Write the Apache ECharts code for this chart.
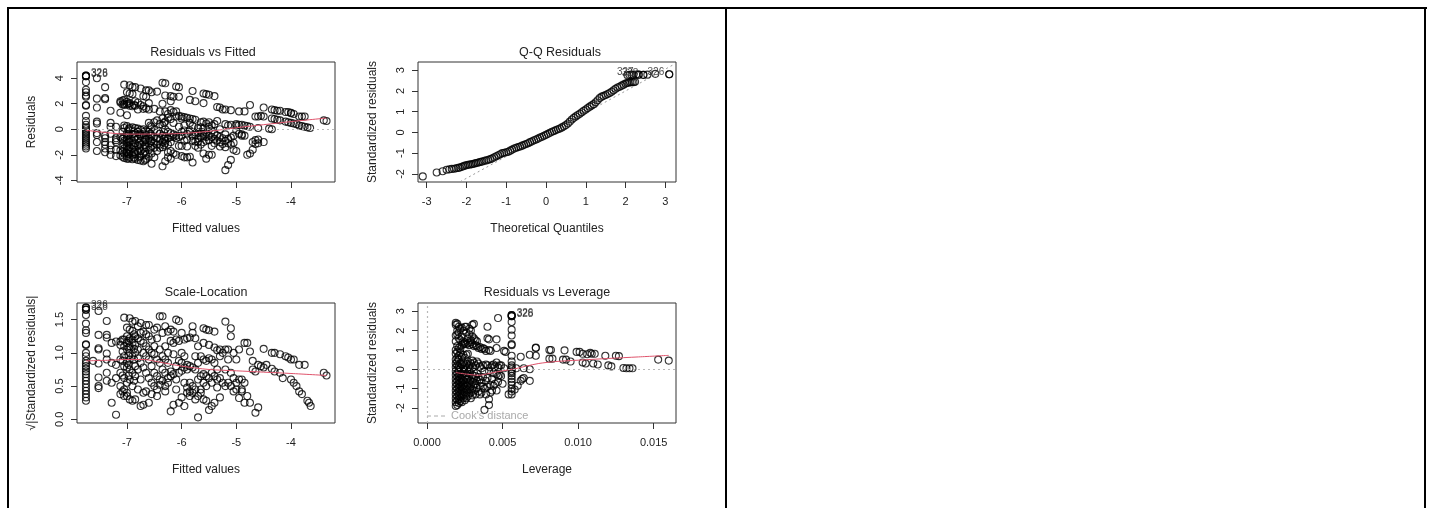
<!DOCTYPE html>
<html>
<head>
<meta charset="utf-8">
<script src="https://cdn.jsdelivr.net/npm/echarts@6/dist/echarts.min.js"></script>
<style>
html,body{margin:0;padding:0;background:#fff;}
#chart{position:absolute;left:0;top:0;width:1430px;height:508px;}
.rule{position:absolute;background:#000;}
</style>
</head>
<body>
<div id="chart"></div>
<div class="rule" style="left:7px;top:7px;width:1420px;height:2px"></div>
<div class="rule" style="left:7px;top:7px;width:2px;height:501px"></div>
<div class="rule" style="left:725px;top:7px;width:2px;height:501px"></div>
<div class="rule" style="left:1424px;top:7px;width:2px;height:501px"></div>
<script>
// residuals vs fitted, one entry per fitted value: [fitted, [residuals]]
const rvfCols = [
  [-7.75,[4.2,4.15,3.7,3.1,2.9,2.65,2.55,1.9,1.85,1.05,0.65,0.35,0.15,0.0,-0.15,-0.3,-0.45,-0.6,-0.75,-0.9,-1.05,-1.2,-1.35,-1.5]],
  [-7.55,[4.0,2.4,1.7,0.6,0.45,-0.3,-0.45,-1.0,-1.7]],
  [-7.4,[3.3,2.45,2.35,-0.5,-0.7,-1.0,-1.2,-1.5,-1.8]],
  [-7.3,[1.45,0.5,0.2,-0.35,-1.25,-1.6,-2.0]],
  [-7.2,[0.2,-0.7,-0.85,-1.0,-1.6,-2.1]],
  [-7.12,[1.3,2.1,2.2,-0.6,-1.65,-2.05]],
  [-7.08,[2.25,1.95,-0.2,-0.75,-1.35,-1.75,-2.15]],
  [-7.05,[3.5,2.3,2.0,1.9,0.3,0.1,-0.6,-0.9,-1.2,-1.5,-1.9,-2.25]],
  [-7.0,[2.9,2.15,1.95,1.1,0.25,-0.3,-0.5,-0.8,-1.05,-1.3,-1.6,-1.85,-2.1,-2.3]],
  [-6.97,[2.0,0.0,-0.4,-0.95,-1.5,-1.95,-2.3]],
  [-6.95,[3.45,2.8,2.05,1.85,0.1,-0.1,-0.7,-1.0,-1.4,-1.7,-2.2]],
  [-6.9,[3.3,2.75,1.8,0.15,-0.4,-0.9,-1.25,-1.55,-2.0,-2.35]],
  [-6.87,[1.9,-0.15,-0.7,-1.35,-1.8,-2.2]],
  [-6.85,[3.3,2.2,1.85,0.1,-0.3,-0.6,-1.1,-1.6,-1.95,-2.3]],
  [-6.8,[2.1,1.55,0.05,-0.2,-0.75,-1.3,-1.75,-2.4]],
  [-6.77,[-0.4,-1.05,-1.5,-2.2]],
  [-6.75,[3.2,1.9,-0.05,-0.5,-0.9,-1.2,-1.7,-2.1,-2.45]],
  [-6.7,[2.6,1.8,1.6,0.0,-0.3,-0.65,-1.0,-1.5,-1.9,-2.5]],
  [-6.67,[-0.2,-0.85,-1.25,-1.75,-2.4]],
  [-6.65,[3.05,2.55,1.65,-0.1,-0.45,-0.8,-1.4,-2.0,-2.3]],
  [-6.6,[3.05,2.05,1.55,0.5,-0.2,-0.7,-1.1,-1.6,-2.15]],
  [-6.57,[0.3,-0.35,-0.95,-1.45]],
  [-6.55,[2.9,0.2,-0.5,-0.9,-1.3,-1.9,-2.7]],
  [-6.5,[1.6,0.55,-0.05,-0.6,-1.05,-1.45,-2.2]],
  [-6.45,[2.95,0.7,-0.25,-0.7,-1.2,-1.7]],
  [-6.4,[1.4,0.4,-0.35,-0.8,-1.2,-1.45]],
  [-6.35,[3.65,2.0,0.85,0.3,-0.5,-1.0,-1.4,-2.9]],
  [-6.32,[0.5,-0.25,-0.75,-1.25]],
  [-6.3,[3.6,2.65,1.4,0.6,0.0,-0.6,-0.9,-1.1,-2.5]],
  [-6.25,[1.2,0.9,-0.2,-0.7,-1.2,-1.8,-2.2]],
  [-6.2,[2.6,2.2,1.5,0.8,-0.3,-0.6,-1.0,-1.7,-2.3]],
  [-6.15,[2.55,1.35,0.5,-0.4,-0.6,-1.9]],
  [-6.1,[3.35,1.4,1.0,-0.5,-0.7,-2.0]],
  [-6.05,[3.3,2.55,1.05,0.2,-0.6,-1.3]],
  [-6.0,[1.0,0.85,-0.2,-0.5,-1.3,-2.1]],
  [-5.95,[0.95,0.3,-0.1,-0.9,-2.2]],
  [-5.9,[0.9,-0.35,-0.8,-1.35,-2.2]],
  [-5.85,[2.3,0.85,0.5,-0.1,-0.2,-2.15]],
  [-5.8,[3.0,0.8,0.25,-0.5,-0.9,-2.6]],
  [-5.75,[2.2,0.75,-0.25,-0.45,-0.95,-1.3]],
  [-5.7,[0.1,-0.3,-0.7,-1.0,-1.45]],
  [-5.65,[0.55,0.15,-0.2,-0.6,-1.2]],
  [-5.6,[2.8,2.05,0.6,0.05,-0.35,-0.55,-1.0,-1.9]],
  [-5.55,[2.75,0.45,-0.25,-0.6,-0.9,-2.3]],
  [-5.5,[2.7,0.55,0.2,-0.5,-0.85,-2.0]],
  [-5.45,[0.3,-0.1,-0.6,-1.3,-2.0]],
  [-5.4,[2.6,0.4,-0.35,-0.75,-1.1]],
  [-5.35,[1.75,0.65,-0.5,-0.9]],
  [-5.3,[1.7,0.0,-0.6,-1.0,-1.35]],
  [-5.25,[1.55,-0.7,-1.15]],
  [-5.2,[1.55,0.4,-0.4,-0.9,-1.4,-3.2]],
  [-5.15,[0.3,-0.75,-1.1,-2.8]],
  [-5.1,[1.5,0.35,-0.65,-1.2,-2.4]],
  [-5.05,[-0.5,-1.05,-1.6]],
  [-5.0,[0.4,0.3,-0.1,-1.7]],
  [-4.95,[1.4,0.35,-0.35]],
  [-4.9,[0.35,-0.4,-0.5]],
  [-4.85,[1.4,0.3,-0.5]],
  [-4.8,[0.25,-2.0]],
  [-4.75,[1.9,0.2,-1.9]],
  [-4.7,[-1.6,-1.0]],
  [-4.65,[1.0,-1.15,-0.85]],
  [-4.6,[1.0,0.1,-0.8,-1.1]],
  [-4.55,[1.05]],
  [-4.5,[1.7,1.0,-1.0]],
  [-4.4,[0.05]],
  [-4.35,[1.55,0.85,0.0]],
  [-4.3,[1.5,0.8]],
  [-4.25,[1.45,0.75]],
  [-4.2,[1.45,0.7]],
  [-4.1,[1.35,0.6]],
  [-4.05,[1.35,0.55]],
  [-4.0,[1.3,1.25,0.5]],
  [-3.95,[1.2,0.45]],
  [-3.9,[0.4]],
  [-3.85,[1.0,0.3]],
  [-3.8,[1.0,0.25]],
  [-3.75,[1.0,0.2]],
  [-3.7,[0.15]],
  [-3.65,[0.1]],
  [-3.4,[0.7]],
  [-3.35,[0.65]]
];

// scale-location: [fitted, [sqrt|std residual|]]
const slCols = [
  [-7.75,[1.68,1.65,1.57,1.44,1.34,1.3,1.13,1.12,1.0,0.95,0.88,0.84,0.8,0.76,0.72,0.68,0.63,0.58,0.53,0.48,0.43,0.38,0.33,0.28]],
  [-7.62,[0.88]],
  [-7.52,[1.63,1.27,1.07,1.05,0.84,0.63,0.5,0.47]],
  [-7.37,[1.48,1.27,1.23,0.99,0.9,0.7,0.58]],
  [-7.28,[1.15,0.85,0.55,0.25]],
  [-7.2,[1.17,0.82,0.62,0.07]],
  [-7.12,[1.17,1.12,0.9,0.7,0.5,0.38]],
  [-7.08,[1.2,1.02,0.88,0.66,0.42]],
  [-7.05,[1.53,1.2,1.1,0.95,0.8,0.62,0.45,0.35]],
  [-7.0,[1.38,1.25,1.15,1.05,0.85,0.78,0.55,0.4,0.35]],
  [-6.97,[1.18,1.08,0.96,0.82,0.66]],
  [-6.95,[1.52,1.35,1.22,1.1,1.0,0.9,0.75,0.6,0.3]],
  [-6.9,[1.47,1.33,1.2,1.15,0.95,0.7,0.5,0.28]],
  [-6.87,[1.28,1.06,0.9,0.58]],
  [-6.85,[1.48,1.25,1.12,1.0,0.8,0.65,0.3]],
  [-6.8,[1.4,1.22,1.05,0.92,0.75,0.45]],
  [-6.75,[1.45,1.3,1.18,0.85,0.6,0.2]],
  [-6.7,[1.32,1.15,1.0,0.78,0.4,0.22]],
  [-6.65,[1.42,1.28,1.1,0.95,0.7,0.42]],
  [-6.6,[1.42,1.25,1.05,0.9,0.62,0.25]],
  [-6.55,[1.2,1.0,0.8,0.55,0.38]],
  [-6.5,[1.35,1.1,0.98,0.7,0.5]],
  [-6.45,[1.38,1.22,0.9,0.65,0.45,0.35]],
  [-6.4,[1.55,1.05,0.85,0.6,0.52]],
  [-6.35,[1.55,1.3,0.95,0.75,0.58]],
  [-6.3,[1.4,1.1,0.9,0.7,0.5,0.42]],
  [-6.25,[1.32,1.0,0.85,0.62,0.55]],
  [-6.2,[1.35,1.18,0.72,0.65,0.12]],
  [-6.15,[1.32,1.15,0.98,0.68,0.22]],
  [-6.1,[1.5,1.2,0.8,0.6,0.45]],
  [-6.05,[1.48,1.18,0.88,0.7,0.25]],
  [-6.0,[1.3,1.0,0.85,0.73,0.33]],
  [-5.95,[1.2,0.95,0.78,0.55,0.2]],
  [-5.9,[1.22,0.82,0.75,0.48,0.4]],
  [-5.85,[1.23,0.8,0.55,0.42,0.35]],
  [-5.8,[1.4,1.3,0.78,0.5,0.4]],
  [-5.75,[1.22,0.95,0.75,0.45,0.3]],
  [-5.7,[1.1,0.85,0.6,0.35,0.03]],
  [-5.65,[0.95,0.65,0.45,0.4]],
  [-5.6,[1.37,1.15,0.9,0.68,0.55,0.3]],
  [-5.55,[1.35,0.88,0.65,0.5,0.28]],
  [-5.5,[1.34,1.12,0.92,0.62,0.14]],
  [-5.45,[0.9,0.7,0.55,0.2]],
  [-5.4,[1.32,1.08,0.85,0.65,0.25]],
  [-5.35,[1.04,0.75,0.6,0.48]],
  [-5.3,[1.05,0.95,0.62,0.33]],
  [-5.25,[1.0,0.55]],
  [-5.2,[1.47,1.05,0.75,0.5]],
  [-5.15,[1.05,0.9,0.55]],
  [-5.1,[1.37,1.25,0.7,0.5]],
  [-5.05,[1.0,0.62,0.42]],
  [-5.0,[0.9,0.55,0.45]],
  [-4.95,[1.05,0.6,0.32]],
  [-4.9,[0.6,0.45,0.42]],
  [-4.85,[1.15,0.55,0.25]],
  [-4.8,[1.15,0.35]],
  [-4.75,[1.02,0.25]],
  [-4.7,[0.88,0.75]],
  [-4.65,[0.1,0.72]],
  [-4.6,[0.82,0.18]],
  [-4.55,[0.8]],
  [-4.5,[1.06,0.78]],
  [-4.45,[0.82]],
  [-4.35,[1.0,0.76]],
  [-4.3,[1.0,0.72]],
  [-4.2,[0.98,0.7]],
  [-4.15,[0.62]],
  [-4.1,[0.95]],
  [-4.05,[0.93]],
  [-4.0,[0.9,0.6]],
  [-3.95,[0.9,0.55]],
  [-3.9,[0.5]],
  [-3.85,[0.82,0.42]],
  [-3.8,[0.38]],
  [-3.75,[0.82]],
  [-3.7,[0.28]],
  [-3.67,[0.25]],
  [-3.64,[0.2]],
  [-3.4,[0.7]],
  [-3.35,[0.66]]
];

// residuals vs leverage: [leverage, [standardized residuals]]
const lvCols = [
  [0.0019,[2.4,2.3,1.75,1.45,1.0,0.8,0.5,0.3,0.1,-0.1,-0.3,-0.5,-0.7,-0.9,-1.1,-1.3,-1.5,-1.7,-1.9]],
  [0.0020,[2.35,2.0,1.8,1.2,0.9,0.6,0.4,0.2,0.0,-0.2,-0.4,-0.6,-0.8,-1.0,-1.2,-1.4,-1.6,-1.85]],
  [0.0021,[2.2,1.9,1.6,1.1,0.7,0.5,0.15,-0.05,-0.35,-0.55,-0.75,-0.95,-1.15,-1.35,-1.55,-1.75]],
  [0.0022,[2.1,1.5,1.05,0.85,0.3,0.05,-0.25,-0.45,-0.65,-0.85,-1.05,-1.25,-1.45,-1.65]],
  [0.0023,[2.15,1.7,1.25,0.65,0.25,-0.1,-0.3,-0.5,-0.7,-0.9,-1.1,-1.4,-1.7]],
  [0.0024,[2.0,1.45,1.3,0.75,0.35,0.1,-0.2,-0.6,-0.8,-1.0,-1.3,-1.5]],
  [0.0025,[2.2,1.4,1.35,0.6,0.2,-0.05,-0.4,-0.7,-0.9,-1.2,-1.6]],
  [0.0026,[2.2,1.9,1.3,0.75,0.3,0.0,-0.3,-0.55,-0.85,-1.05,-1.35,-1.5]],
  [0.0027,[1.6,1.35,0.8,0.4,0.1,-0.2,-0.5,-0.8,-1.1,-1.4]],
  [0.0028,[2.1,1.8,1.25,0.2,-0.1,-0.4,-0.7,-1.0,-1.25]],
  [0.0029,[2.0,1.5,1.4,0.3,0.0,-0.6,-0.9,-1.2,-1.5]],
  [0.0030,[2.3,1.7,1.3,0.45,0.1,-0.3,-0.65,-1.05,-1.35]],
  [0.0031,[2.35,1.6,1.2,0.35,-0.15,-0.5,-0.8,-1.1]],
  [0.0032,[1.5,1.25,0.2,-0.35,-0.75,-1.3]],
  [0.0033,[1.45,1.2,0.4,-0.2,-0.6,-0.95]],
  [0.0034,[1.1,0.3,-0.4,-1.15]],
  [0.0035,[1.15,0.15,-0.55,-0.85,-1.3]],
  [0.0036,[1.05,0.05,-0.7,-1.2]],
  [0.0037,[1.1,0.2,-0.4,-0.9]],
  [0.0038,[1.05,-0.1,-1.0,-2.1]],
  [0.0039,[0.95,0.25,-0.6,-1.3]],
  [0.0040,[2.2,1.6,0.2,-0.45,-0.9]],
  [0.0041,[1.55,1.0,-0.1,-1.55,-1.85]],
  [0.0042,[0.95,0.1,-0.8,-1.2]],
  [0.0043,[0.2,-0.5,-1.1]],
  [0.0044,[0.25,-0.2,-0.85]],
  [0.0045,[0.15,-0.75]],
  [0.0046,[1.55,1.1,0.35,-0.25,-1.1]],
  [0.0047,[2.65,0.1,-0.35,-0.65]],
  [0.0048,[0.2,-0.3]],
  [0.0049,[0.2,-0.35]],
  [0.0050,[-0.75]],
  [0.0051,[0.95,0.05]],
  [0.0052,[0.9]],
  [0.0054,[-1.3]],
  [0.0056,[2.8,2.75,2.45,2.05,1.75,1.3,1.25,0.7,0.4,0.2,0.1,0.0,-0.1,-0.2,-0.35,-0.5,-0.65,-0.8,-1.0,-1.15,-1.3]],
  [0.0058,[-1.05]],
  [0.0059,[0.05]],
  [0.0060,[-0.85]],
  [0.0062,[0.65,-0.6]],
  [0.0063,[-0.5]],
  [0.0064,[-0.45,0.05]],
  [0.0068,[0.75,-0.6,0.0]],
  [0.0072,[1.1,1.12,0.7]],
  [0.0081,[1.0,0.55]],
  [0.0082,[1.0]],
  [0.0083,[0.55]],
  [0.0090,[0.5]],
  [0.0091,[0.98]],
  [0.0092,[0.5]],
  [0.0095,[0.4]],
  [0.0099,[0.9]],
  [0.0101,[0.9]],
  [0.0103,[0.8,0.35]],
  [0.0105,[0.3]],
  [0.0106,[0.78]],
  [0.0108,[0.85]],
  [0.0109,[0.8]],
  [0.0110,[0.3]],
  [0.0111,[0.8]],
  [0.0113,[0.25]],
  [0.0118,[0.7]],
  [0.0120,[0.2]],
  [0.0122,[0.15]],
  [0.0125,[0.7]],
  [0.0127,[0.68]],
  [0.0130,[0.07]],
  [0.0132,[0.05]],
  [0.0134,[0.05]],
  [0.0136,[0.05]],
  [0.0153,[0.5]],
  [0.0160,[0.45]]
];

// normal Q-Q: [theoretical quantile, standardized residual]
const qqPts = [
  [-3.1,-2.12],[-2.75,-1.93],[-2.6,-1.87],[-2.5,-1.8],[-2.43,-1.78],[-2.37,-1.76],[-2.31,-1.75],[-2.26,-1.73],
  [-2.21,-1.71],[-2.17,-1.69],[-2.12,-1.66],[-2.08,-1.63],[-2.04,-1.6],[-2.0,-1.58],[-1.96,-1.56],[-1.92,-1.55],
  [-1.88,-1.54],[-1.84,-1.52],[-1.8,-1.5],[-1.76,-1.48],[-1.72,-1.46],[-1.68,-1.44],[-1.64,-1.42],[-1.6,-1.4],
  [-1.55,-1.37],[-1.5,-1.35],[-1.45,-1.32],[-1.4,-1.29],[-1.35,-1.25],[-1.3,-1.2],[-1.25,-1.15],[-1.2,-1.1],
  [-1.15,-1.05],[-1.1,-1.0],[-1.05,-0.98],[-1.0,-0.96],[-0.95,-0.93],[-0.9,-0.88],[-0.85,-0.83],[-0.8,-0.78],
  [-0.75,-0.74],[-0.7,-0.71],[-0.65,-0.68],[-0.6,-0.64],[-0.55,-0.6],[-0.5,-0.56],[-0.45,-0.52],[-0.4,-0.47],
  [-0.35,-0.43],[-0.3,-0.38],[-0.25,-0.34],[-0.2,-0.3],[-0.15,-0.25],[-0.1,-0.21],[-0.05,-0.16],[0.0,-0.12],
  [0.05,-0.07],[0.1,-0.02],[0.15,0.03],[0.2,0.07],[0.25,0.11],[0.3,0.15],[0.35,0.19],[0.4,0.24],
  [0.45,0.29],[0.5,0.35],[0.55,0.43],[0.6,0.52],[0.65,0.62],[0.7,0.7],[0.75,0.77],[0.8,0.84],
  [0.85,0.9],[0.9,0.97],[0.95,1.04],[1.0,1.1],[1.05,1.17],[1.1,1.24],[1.15,1.3],[1.2,1.36],
  [1.25,1.45],[1.3,1.55],[1.35,1.65],[1.4,1.72],[1.45,1.76],[1.5,1.8],[1.55,1.85],[1.6,1.9],
  [1.65,1.96],[1.7,2.03],[1.75,2.1],[1.8,2.16],[1.85,2.2],[1.9,2.25],[1.95,2.3],[2.0,2.35],
  [2.04,2.38],[2.08,2.4],[2.12,2.41],[2.16,2.42],[2.2,2.42],[2.24,2.44],[2.05,2.75],[2.1,2.77],
  [2.15,2.78],[2.2,2.77],[2.27,2.79],[2.33,2.78],[2.45,2.77],[2.55,2.78],[2.75,2.82],[3.1,2.8]
];
const qqLine = [[-2.6,-2.84],[3.5,3.57]];

// red smoother lines
const rvfSmooth = [[-7.75,-0.08],[-7.4,-0.25],[-7.0,-0.38],[-6.5,-0.37],[-6.0,-0.33],[-5.5,-0.16],[-5.0,0.12],[-4.5,0.36],[-4.0,0.6],[-3.35,0.88]];
const slSmooth = [[-7.75,0.88],[-7.3,0.89],[-7.0,0.9],[-6.7,0.9],[-6.4,0.86],[-6.0,0.8],[-5.5,0.75],[-5.0,0.73],[-4.5,0.71],[-4.0,0.69],[-3.35,0.66]];
const lvSmooth = [[0.0019,-0.17],[0.0027,-0.26],[0.0034,-0.31],[0.0042,-0.2],[0.005,-0.08],[0.0058,0.02],[0.0066,0.17],[0.0074,0.3],[0.0085,0.4],[0.01,0.47],[0.012,0.56],[0.014,0.64],[0.016,0.72]];

// labelled observations: [x, y, id]
const rvfIds = [[-7.75,4.15,'328'],[-7.75,4.2,'326']];
const slIds = [[-7.75,1.65,'328'],[-7.75,1.68,'326']];
const lvIds = [[0.0056,2.75,'328'],[0.0056,2.8,'326']];
const qqIds = [[2.33,2.78,'327'],[2.45,2.77,'328'],[3.1,2.8,'326']];

// ticks
const fittedTicks = [-7,-6,-5,-4];
const residTicks = [-4,-2,0,2,4];
const qqTicks = [-3,-2,-1,0,1,2,3];
const stdTicks = [-2,-1,0,1,2,3];
const slTicks = [0,0.5,1,1.5];
const levTicks = [0,0.005,0.01,0.015];

const titles = ['Residuals vs Fitted','Q-Q Residuals','Scale-Location','Residuals vs Leverage'];

const FONT = '"Liberation Sans", Arial, Helvetica, sans-serif';
const INK = '#222';

const grids = [
  {left:77, top:62, width:258, height:120},
  {left:418, top:62, width:258, height:120},
  {left:77, top:303, width:258, height:120},
  {left:418, top:303, width:258, height:120}
].map(g => ({...g, show:true, borderColor:'#333', borderWidth:1, backgroundColor:'transparent'}));

function flat(cols){
  const out = [];
  cols.forEach(c => c[1].forEach(y => out.push([c[0], y])));
  return out;
}

function axis(i, min, max, ticks, dec, name, isY){
  return {
    type:'value', gridIndex:i, min:min, max:max,
    position: isY ? 'left' : 'bottom',
    name:name, nameLocation:'middle', nameGap: isY ? 39 : 41,
    nameTextStyle:{fontFamily:FONT, fontSize:12, color:INK},
    axisLine:{show:false, onZero:false},
    splitLine:{show:false},
    axisTick:{show:true, length:6, customValues:ticks, lineStyle:{color:'#333', width:1}},
    axisLabel:{
      customValues:ticks, margin: isY ? 12 : 14, rotate: isY ? 90 : 0,
      fontFamily:FONT, fontSize:11, color:INK,
      formatter: v => Number(v).toFixed(dec)
    }
  };
}

const ring = {color:'rgba(0,0,0,0)', borderColor:'#000', borderWidth:1.1};
const dotted = {color:'#b8b8b8', type:[2,3], width:1.2};

function points(i, data){
  return {type:'scatter', xAxisIndex:i, yAxisIndex:i, data:data, symbol:'circle', symbolSize:7,
    itemStyle:ring, silent:true, z:3};
}
function smooth(i, data){
  return {type:'line', xAxisIndex:i, yAxisIndex:i, data:data, smooth:0.3, showSymbol:false,
    lineStyle:{color:'#DF536B', width:1}, silent:true, z:4};
}
function ids(i, data, pos){
  return {type:'scatter', xAxisIndex:i, yAxisIndex:i, symbol:'circle', symbolSize:7, itemStyle:ring, silent:true, z:5,
    data: data.map(d => ({value:[d[0], d[1]], label:{formatter:d[2]}})),
    label:{show:true, position:pos, distance:1, offset:[0,-2], fontFamily:FONT, fontSize:10, color:INK}};
}
function refLines(i, marks){
  return {type:'line', xAxisIndex:i, yAxisIndex:i, data:[], silent:true, z:2,
    markLine:{silent:true, symbol:'none', label:{show:false}, lineStyle:dotted, animation:false, data:marks}};
}

const titleY = [53, 53, 293, 293];
const titleX = [203, 560, 206, 547];

const chart = echarts.init(document.getElementById('chart'));
chart.setOption({
  animation:false,
  grid: grids,
  xAxis: [
    axis(0, -7.914, -3.195, fittedTicks, 0, 'Fitted values', false),
    axis(1, -3.22, 3.27, qqTicks, 0, 'Theoretical Quantiles', false),
    axis(2, -7.914, -3.195, fittedTicks, 0, 'Fitted values', false),
    axis(3, -0.0006, 0.01648, levTicks, 3, 'Leverage', false)
  ],
  yAxis: [
    axis(0, -4.13, 5.27, residTicks, 0, 'Residuals', true),
    axis(1, -2.39, 3.39, stdTicks, 0, 'Standardized residuals', true),
    axis(2, -0.055, 1.75, slTicks, 1, '\u221A|Standardized residuals|', true),
    axis(3, -2.78, 3.43, stdTicks, 0, 'Standardized residuals', true)
  ],
  series: [
    refLines(0, [{yAxis:0}]),
    points(0, flat(rvfCols)),
    smooth(0, rvfSmooth),
    ids(0, rvfIds, 'right'),

    {type:'line', xAxisIndex:1, yAxisIndex:1, data:qqLine, showSymbol:false, silent:true, z:2,
      lineStyle:{color:'#999', type:[2,3], width:1}},
    points(1, qqPts),
    ids(1, qqIds, 'left'),

    points(2, flat(slCols)),
    smooth(2, slSmooth),
    ids(2, slIds, 'right'),

    refLines(3, [{yAxis:0}, {xAxis:0}]),
    points(3, flat(lvCols)),
    smooth(3, lvSmooth),
    ids(3, lvIds, 'right')
  ],
  graphic: titles.map((t, k) => ({
    type:'text', x:titleX[k], y:titleY[k], silent:true,
    style:{text:t, textAlign:'center', textVerticalAlign:'middle', fontFamily:FONT, fontSize:12.5, fill:INK}
  })).concat([
    {type:'line', silent:true, shape:{x1:427, y1:416, x2:448, y2:416},
      style:{stroke:'#aaa', lineWidth:1, lineDash:[4,3]}},
    {type:'text', x:451, y:416, silent:true,
      style:{text:"Cook's distance", textAlign:'left', textVerticalAlign:'middle', fontFamily:FONT, fontSize:11, fill:'#aaa'}}
  ])
});
</script>
</body>
</html>
